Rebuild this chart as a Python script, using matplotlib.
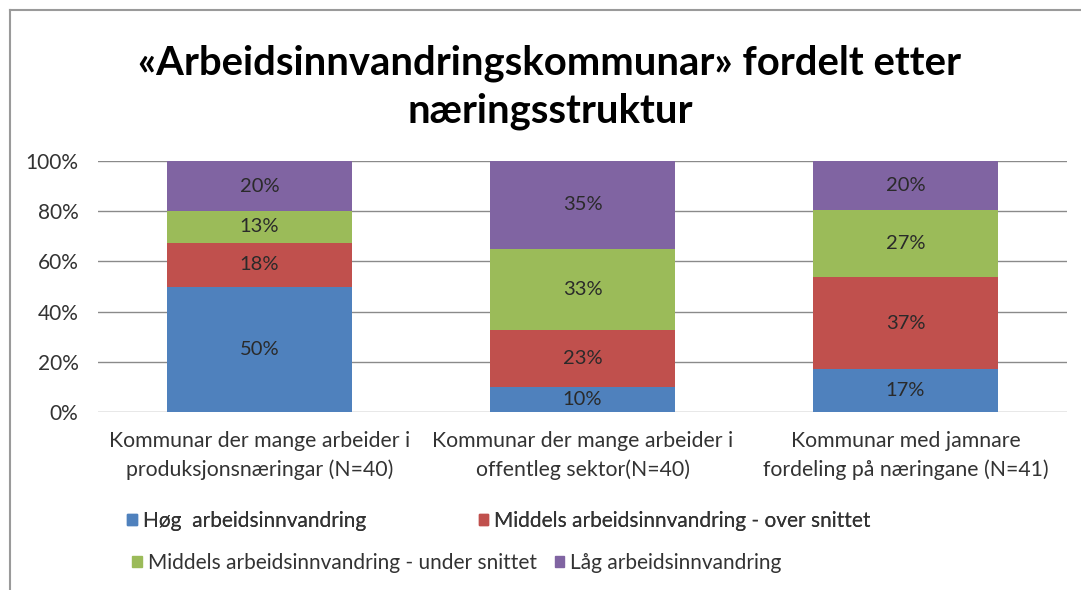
import numpy as np
import matplotlib
matplotlib.use('Agg')
import matplotlib.pyplot as plt
from matplotlib.patches import Patch
from matplotlib.lines import Line2D

plt.rcParams['font.family'] = ['Lato', 'DejaVu Sans']

kategoriar = ['Kommunar der mange arbeider i\nproduksjonsnæringar (N=40)',
              'Kommunar der mange arbeider i\noffentleg sektor(N=40)',
              'Kommunar med jamnare\nfordeling på næringane (N=41)']

# prosentdelar lest av figuren
hog = [50.0, 10.0, 17.1]
over_snitt = [17.5, 22.5, 36.6]
under_snitt = [12.5, 32.5, 26.8]
lag = [20.0, 35.0, 19.5]

serie_namn = ['Høg  arbeidsinnvandring',
              'Middels arbeidsinnvandring - over snittet',
              'Middels arbeidsinnvandring - under snittet',
              'Låg arbeidsinnvandring']
fargar = ['#4F81BD', '#C0504D', '#9BBB59', '#8064A2']

fig = plt.figure(figsize=(10.81, 5.9), dpi=100)
ax = fig.add_axes([98 / 1081, 1 - 412 / 590, (1067 - 98) / 1081, (412 - 161) / 590])

x = np.arange(len(kategoriar))
botn = np.zeros(len(kategoriar))
for verdiar, farge, namn in zip([hog, over_snitt, under_snitt, lag], fargar, serie_namn):
    verdiar = np.array(verdiar)
    ax.bar(x, verdiar, 0.57, bottom=botn, color=farge, label=namn, zorder=3)
    for xi, b, v in zip(x, botn, verdiar):
        ax.text(xi, b + v / 2, f'{int(v + 0.5)}%', ha='center', va='center',
                fontsize=14.5, color='#2a2a2a', zorder=4)
    botn += verdiar

ax.set_xlim(-0.5, 2.5)
ax.set_ylim(0, 100)
ax.set_yticks(range(0, 101, 20))
ax.set_yticklabels([f'{v}%' for v in range(0, 101, 20)])
ax.set_xticks(x)
ax.set_xticklabels(kategoriar, fontsize=15.3, color='#333333', linespacing=1.5)
ax.tick_params(axis='y', length=0, pad=14, labelsize=15, labelcolor='#333333')
ax.tick_params(axis='x', length=0, pad=14)
ax.grid(axis='y', color='#8a8a8a', linewidth=1, zorder=0)
for s in ax.spines.values():
    s.set_visible(False)

fig.suptitle('«Arbeidsinnvandringskommunar» fordelt etter\nnæringsstruktur',
             x=550 / 1081, y=1 - 44 / 590, fontsize=28.8, fontweight='bold', linespacing=1.35)

# forklaring i to rader, slik Excel legg dei ut
h = [Patch(color=c) for c in fargar]
leg1 = fig.legend([h[0], h[1]], [serie_namn[0], serie_namn[1]], ncol=2,
                  loc='center left', bbox_to_anchor=(117 / 1081, 1 - 521 / 590),
                  frameon=False, fontsize=15, handlelength=0.45, handleheight=0.45,
                  handletextpad=0.3, columnspacing=5.4, borderpad=0)
leg2 = fig.legend([h[2], h[3]], [serie_namn[2], serie_namn[3]], ncol=2,
                  loc='center left', bbox_to_anchor=(122 / 1081, 1 - 563 / 590),
                  frameon=False, fontsize=15, handlelength=0.45, handleheight=0.45,
                  handletextpad=0.3, columnspacing=0.85, borderpad=0)
fig.add_artist(leg1)
for t in leg1.get_texts() + leg2.get_texts():
    t.set_color('#333333')

# ramme rundt diagrammet
fig.add_artist(Line2D([10 / 1081, 1], [1 - 10 / 590, 1 - 10 / 590], color='#9a9a9a', lw=1.5))
fig.add_artist(Line2D([10 / 1081, 10 / 1081], [0, 1 - 10 / 590], color='#9a9a9a', lw=1.5))

fig.savefig('out.png', dpi=100)
